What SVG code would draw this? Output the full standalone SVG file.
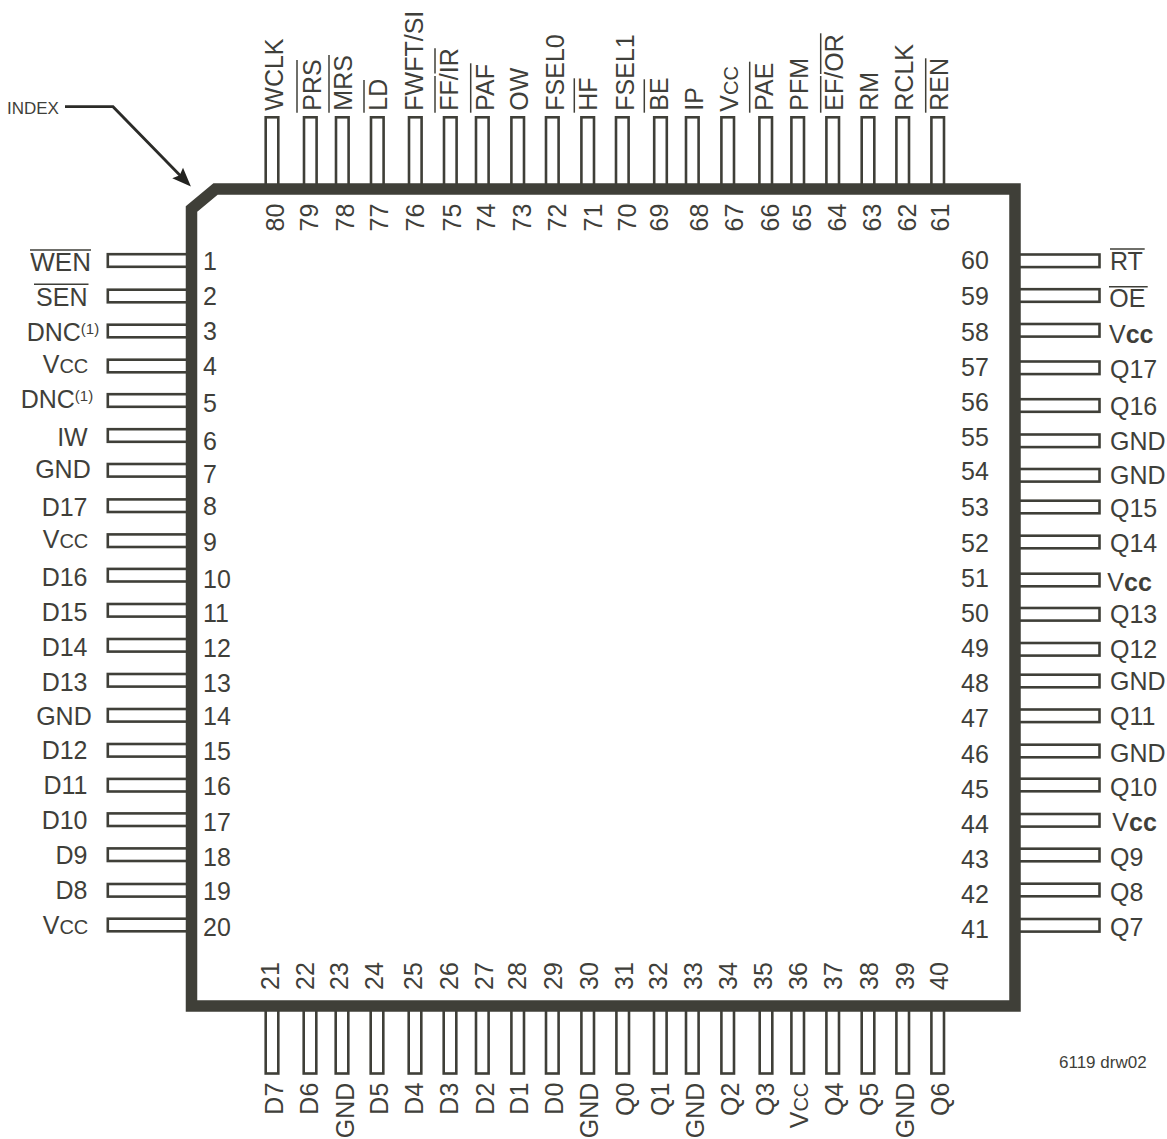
<svg xmlns="http://www.w3.org/2000/svg" width="1167" height="1139" viewBox="0 0 1167 1139">
<style>
.p{fill:#fff;stroke:#3f3f38;stroke-width:2.6}
.t{font-family:"Liberation Sans",Arial,sans-serif;font-size:25px;fill:#3f3f3a}
.e{text-anchor:end}
.o{stroke:#3f3f38;stroke-width:1.5;fill:none}
.s{font-size:20px}
.b{font-weight:bold}
.u{font-size:15px}
.m{font-size:17px}
.w{font-size:26px}
.body{fill:none;stroke:#3f3f38;stroke-width:11.5;stroke-linejoin:miter}
.l{fill:none;stroke:#2b2b28;stroke-width:2.8}
</style>
<defs><marker id="arrow" markerUnits="userSpaceOnUse" markerWidth="24" markerHeight="24" refX="13.4" refY="12" orient="auto"><path d="M0 4.5L19 12L0 19.5L3 12Z" fill="#232320"/></marker></defs>
<rect width="1167" height="1139" fill="#fff"/>
<g id="pin-1"><rect class="p" x="107.8" y="254.2" width="84" height="12.6"/><text class="t" x="203" y="270">1</text><text class="t e w" x="91" y="270.7">WEN</text><line class="o" x1="30" y1="250" x2="91" y2="250"/></g>
<g id="pin-2"><rect class="p" x="107.8" y="289.7" width="84" height="12.6"/><text class="t" x="203" y="305">2</text><text class="t e" x="87.5" y="305.7">SEN</text><line class="o" x1="34" y1="284.3" x2="88.5" y2="284.3"/></g>
<g id="pin-3"><rect class="p" x="107.8" y="324.7" width="84" height="12.6"/><text class="t" x="203" y="340">3</text><text class="t" x="26.7" y="340.7">DNC<tspan class="u" dy="-7">(1)</tspan></text></g>
<g id="pin-4"><rect class="p" x="107.8" y="359.7" width="84" height="12.6"/><text class="t" x="203" y="375">4</text><text class="t e" x="88.3" y="372.7">V<tspan class="s">CC</tspan></text></g>
<g id="pin-5"><rect class="p" x="107.8" y="394.2" width="84" height="12.6"/><text class="t" x="203" y="411.7">5</text><text class="t" x="20.7" y="408.3">DNC<tspan class="u" dy="-7">(1)</tspan></text></g>
<g id="pin-6"><rect class="p" x="107.8" y="429.2" width="84" height="12.6"/><text class="t" x="203" y="449.5">6</text><text class="t e" x="87.7" y="445.7">IW</text></g>
<g id="pin-7"><rect class="p" x="107.8" y="464" width="84" height="12.6"/><text class="t" x="203" y="483">7</text><text class="t e" x="90.7" y="478.3">GND</text></g>
<g id="pin-8"><rect class="p" x="107.8" y="499.4" width="84" height="12.6"/><text class="t" x="203" y="515">8</text><text class="t e" x="87.5" y="515.7">D17</text></g>
<g id="pin-9"><rect class="p" x="107.8" y="534.4" width="84" height="12.6"/><text class="t" x="203" y="550.7">9</text><text class="t e" x="88.3" y="548.3">V<tspan class="s">CC</tspan></text></g>
<g id="pin-10"><rect class="p" x="107.8" y="568.9" width="84" height="12.6"/><text class="t" x="203" y="588">10</text><text class="t e" x="87.5" y="585.7">D16</text></g>
<g id="pin-11"><rect class="p" x="107.8" y="604" width="84" height="12.6"/><text class="t" x="203" y="621.7">11</text><text class="t e" x="87.5" y="620.7">D15</text></g>
<g id="pin-12"><rect class="p" x="107.8" y="639" width="84" height="12.6"/><text class="t" x="203" y="656.7">12</text><text class="t e" x="87.5" y="655.7">D14</text></g>
<g id="pin-13"><rect class="p" x="107.8" y="674" width="84" height="12.6"/><text class="t" x="203" y="691.7">13</text><text class="t e" x="87.5" y="690.7">D13</text></g>
<g id="pin-14"><rect class="p" x="107.8" y="709" width="84" height="12.6"/><text class="t" x="203" y="725">14</text><text class="t e" x="91.7" y="725">GND</text></g>
<g id="pin-15"><rect class="p" x="107.8" y="744" width="84" height="12.6"/><text class="t" x="203" y="760">15</text><text class="t e" x="87.5" y="759.3">D12</text></g>
<g id="pin-16"><rect class="p" x="107.8" y="778.9" width="84" height="12.6"/><text class="t" x="203" y="795">16</text><text class="t e" x="87.5" y="794.3">D11</text></g>
<g id="pin-17"><rect class="p" x="107.8" y="813.4" width="84" height="12.6"/><text class="t" x="203" y="830.7">17</text><text class="t e" x="87.5" y="829.3">D10</text></g>
<g id="pin-18"><rect class="p" x="107.8" y="848.4" width="84" height="12.6"/><text class="t" x="203" y="865.7">18</text><text class="t e" x="87.5" y="864.3">D9</text></g>
<g id="pin-19"><rect class="p" x="107.8" y="884" width="84" height="12.6"/><text class="t" x="203" y="900">19</text><text class="t e" x="87.5" y="899">D8</text></g>
<g id="pin-20"><rect class="p" x="107.8" y="918.7" width="84" height="12.6"/><text class="t" x="203" y="936">20</text><text class="t e" x="88.3" y="934">V<tspan class="s">CC</tspan></text></g>

<g id="pin-21"><rect class="p" x="265.7" y="1006" width="12.6" height="67.5"/><text class="t" transform="translate(279,990) rotate(-90)">21</text><text class="t e" transform="translate(283.3,1082.7) rotate(-90)">D7</text></g>
<g id="pin-22"><rect class="p" x="303.7" y="1006" width="12.6" height="67.5"/><text class="t" transform="translate(314,990) rotate(-90)">22</text><text class="t e" transform="translate(317.7,1082.7) rotate(-90)">D6</text></g>
<g id="pin-23"><rect class="p" x="335.7" y="1006" width="12.6" height="67.5"/><text class="t" transform="translate(348.3,990) rotate(-90)">23</text><text class="t e" transform="translate(354,1082.7) rotate(-90)">GND</text></g>
<g id="pin-24"><rect class="p" x="370.7" y="1006" width="12.6" height="67.5"/><text class="t" transform="translate(383.3,990) rotate(-90)">24</text><text class="t e" transform="translate(388.3,1082.7) rotate(-90)">D5</text></g>
<g id="pin-25"><rect class="p" x="408.7" y="1006" width="12.6" height="67.5"/><text class="t" transform="translate(421.7,990) rotate(-90)">25</text><text class="t e" transform="translate(423.3,1082.7) rotate(-90)">D4</text></g>
<g id="pin-26"><rect class="p" x="443.7" y="1006" width="12.6" height="67.5"/><text class="t" transform="translate(457.7,990) rotate(-90)">26</text><text class="t e" transform="translate(458.3,1082.7) rotate(-90)">D3</text></g>
<g id="pin-27"><rect class="p" x="476" y="1006" width="12.6" height="67.5"/><text class="t" transform="translate(493.3,990) rotate(-90)">27</text><text class="t e" transform="translate(494,1082.7) rotate(-90)">D2</text></g>
<g id="pin-28"><rect class="p" x="511.4" y="1006" width="12.6" height="67.5"/><text class="t" transform="translate(525.7,990) rotate(-90)">28</text><text class="t e" transform="translate(528.3,1082.7) rotate(-90)">D1</text></g>
<g id="pin-29"><rect class="p" x="546" y="1006" width="12.6" height="67.5"/><text class="t" transform="translate(561.7,990) rotate(-90)">29</text><text class="t e" transform="translate(563.3,1082.7) rotate(-90)">D0</text></g>
<g id="pin-30"><rect class="p" x="581.4" y="1006" width="12.6" height="67.5"/><text class="t" transform="translate(597.7,990) rotate(-90)">30</text><text class="t e" transform="translate(598.3,1082.7) rotate(-90)">GND</text></g>
<g id="pin-31"><rect class="p" x="616.4" y="1006" width="12.6" height="67.5"/><text class="t" transform="translate(632.7,990) rotate(-90)">31</text><text class="t e" transform="translate(634,1082.7) rotate(-90)">Q0</text></g>
<g id="pin-32"><rect class="p" x="654" y="1006" width="12.6" height="67.5"/><text class="t" transform="translate(667.3,990) rotate(-90)">32</text><text class="t e" transform="translate(669,1082.7) rotate(-90)">Q1</text></g>
<g id="pin-33"><rect class="p" x="686" y="1006" width="12.6" height="67.5"/><text class="t" transform="translate(702.3,990) rotate(-90)">33</text><text class="t e" transform="translate(704,1082.7) rotate(-90)">GND</text></g>
<g id="pin-34"><rect class="p" x="721.4" y="1006" width="12.6" height="67.5"/><text class="t" transform="translate(736.7,990) rotate(-90)">34</text><text class="t e" transform="translate(739,1082.7) rotate(-90)">Q2</text></g>
<g id="pin-35"><rect class="p" x="759.7" y="1006" width="12.6" height="67.5"/><text class="t" transform="translate(771.7,990) rotate(-90)">35</text><text class="t e" transform="translate(774,1082.7) rotate(-90)">Q3</text></g>
<g id="pin-36"><rect class="p" x="791.4" y="1006" width="12.6" height="67.5"/><text class="t" transform="translate(806.7,990) rotate(-90)">36</text><text class="t e" transform="translate(807.7,1082.7) rotate(-90)">V<tspan class="s">CC</tspan></text></g>
<g id="pin-37"><rect class="p" x="826.4" y="1006" width="12.6" height="67.5"/><text class="t" transform="translate(841.7,990) rotate(-90)">37</text><text class="t e" transform="translate(843.3,1082.7) rotate(-90)">Q4</text></g>
<g id="pin-38"><rect class="p" x="861.7" y="1006" width="12.6" height="67.5"/><text class="t" transform="translate(878.3,990) rotate(-90)">38</text><text class="t e" transform="translate(878.3,1082.7) rotate(-90)">Q5</text></g>
<g id="pin-39"><rect class="p" x="896.4" y="1006" width="12.6" height="67.5"/><text class="t" transform="translate(913.5,990) rotate(-90)">39</text><text class="t e" transform="translate(914,1082.7) rotate(-90)">GND</text></g>
<g id="pin-40"><rect class="p" x="931.4" y="1006" width="12.6" height="67.5"/><text class="t" transform="translate(948.3,990) rotate(-90)">40</text><text class="t e" transform="translate(949.3,1082.7) rotate(-90)">Q6</text></g>

<g id="pin-41"><rect class="p" x="1015" y="919" width="84.5" height="12.6"/><text class="t" x="961" y="937.7">41</text><text class="t" x="1110" y="936">Q7</text></g>
<g id="pin-42"><rect class="p" x="1015" y="883.7" width="84.5" height="12.6"/><text class="t" x="961" y="903">42</text><text class="t" x="1110" y="901">Q8</text></g>
<g id="pin-43"><rect class="p" x="1015" y="848.7" width="84.5" height="12.6"/><text class="t" x="961" y="868">43</text><text class="t" x="1110" y="866">Q9</text></g>
<g id="pin-44"><rect class="p" x="1015" y="814" width="84.5" height="12.6"/><text class="t" x="961" y="833">44</text><text class="t" x="1112.3" y="830.7">V<tspan class="b">cc</tspan></text></g>
<g id="pin-45"><rect class="p" x="1015" y="778.7" width="84.5" height="12.6"/><text class="t" x="961" y="798.3">45</text><text class="t" x="1110" y="796">Q10</text></g>
<g id="pin-46"><rect class="p" x="1015" y="744.7" width="84.5" height="12.6"/><text class="t" x="961" y="763.3">46</text><text class="t" x="1110" y="761.7">GND</text></g>
<g id="pin-47"><rect class="p" x="1015" y="709.5" width="84.5" height="12.6"/><text class="t" x="961" y="726.7">47</text><text class="t" x="1110" y="725">Q11</text></g>
<g id="pin-48"><rect class="p" x="1015" y="674.7" width="84.5" height="12.6"/><text class="t" x="961" y="691.7">48</text><text class="t" x="1110" y="690">GND</text></g>
<g id="pin-49"><rect class="p" x="1015" y="643" width="84.5" height="12.6"/><text class="t" x="961" y="656.7">49</text><text class="t" x="1110" y="658.3">Q12</text></g>
<g id="pin-50"><rect class="p" x="1015" y="608" width="84.5" height="12.6"/><text class="t" x="961" y="621.7">50</text><text class="t" x="1110" y="623.3">Q13</text></g>
<g id="pin-51"><rect class="p" x="1015" y="573.7" width="84.5" height="12.6"/><text class="t" x="961" y="586.7">51</text><text class="t" x="1107.3" y="590.7">V<tspan class="b">cc</tspan></text></g>
<g id="pin-52"><rect class="p" x="1015" y="535.7" width="84.5" height="12.6"/><text class="t" x="961" y="551.7">52</text><text class="t" x="1110" y="552.3">Q14</text></g>
<g id="pin-53"><rect class="p" x="1015" y="500.7" width="84.5" height="12.6"/><text class="t" x="961" y="516">53</text><text class="t" x="1110" y="516.7">Q15</text></g>
<g id="pin-54"><rect class="p" x="1015" y="469" width="84.5" height="12.6"/><text class="t" x="961" y="480">54</text><text class="t" x="1110" y="484.3">GND</text></g>
<g id="pin-55"><rect class="p" x="1015" y="434.5" width="84.5" height="12.6"/><text class="t" x="961" y="446">55</text><text class="t" x="1110" y="450">GND</text></g>
<g id="pin-56"><rect class="p" x="1015" y="399.2" width="84.5" height="12.6"/><text class="t" x="961" y="410.7">56</text><text class="t" x="1110" y="415">Q16</text></g>
<g id="pin-57"><rect class="p" x="1015" y="361.5" width="84.5" height="12.6"/><text class="t" x="961" y="376">57</text><text class="t" x="1110" y="378.3">Q17</text></g>
<g id="pin-58"><rect class="p" x="1015" y="324" width="84.5" height="12.6"/><text class="t" x="961" y="340.7">58</text><text class="t" x="1109" y="342.7">V<tspan class="b">cc</tspan></text></g>
<g id="pin-59"><rect class="p" x="1015" y="289.2" width="84.5" height="12.6"/><text class="t" x="961" y="305">59</text><text class="t" x="1109.3" y="307.3">OE</text><line class="o" x1="1109" y1="286.7" x2="1147.7" y2="286.7"/></g>
<g id="pin-60"><rect class="p" x="1015" y="254.5" width="84.5" height="12.6"/><text class="t" x="961" y="269.3">60</text><text class="t" x="1110" y="270">RT</text><line class="o" x1="1110" y1="249" x2="1144.7" y2="249"/></g>

<g id="pin-61"><rect class="p" x="931.4" y="117.3" width="12.6" height="72"/><text class="t" transform="translate(949.3,231.5) rotate(-90)">61</text><text class="t" transform="translate(948.3,110.7) rotate(-90)">REN</text><line class="o" x1="925.7" y1="112.7" x2="925.7" y2="58.3"/></g>
<g id="pin-62"><rect class="p" x="896.4" y="117.3" width="12.6" height="72"/><text class="t" transform="translate(915.7,231.5) rotate(-90)">62</text><text class="t" transform="translate(913.3,110.7) rotate(-90)">RCLK</text></g>
<g id="pin-63"><rect class="p" x="861.7" y="117.3" width="12.6" height="72"/><text class="t" transform="translate(881,231.5) rotate(-90)">63</text><text class="t" transform="translate(878.3,110.7) rotate(-90)">RM</text></g>
<g id="pin-64"><rect class="p" x="826.4" y="117.3" width="12.6" height="72"/><text class="t" transform="translate(846,231.5) rotate(-90)">64</text><text class="t" transform="translate(843.3,110.7) rotate(-90)">EF/OR</text><line class="o" x1="820.7" y1="112.7" x2="820.7" y2="76"/><line class="o" x1="820.7" y1="74" x2="820.7" y2="33.3"/></g>
<g id="pin-65"><rect class="p" x="791.4" y="117.3" width="12.6" height="72"/><text class="t" transform="translate(811,231.5) rotate(-90)">65</text><text class="t" transform="translate(808.3,110.7) rotate(-90)">PFM</text></g>
<g id="pin-66"><rect class="p" x="759.4" y="117.3" width="12.6" height="72"/><text class="t" transform="translate(779,231.5) rotate(-90)">66</text><text class="t" transform="translate(772.7,110.7) rotate(-90)">PAE</text><line class="o" x1="749.7" y1="112.7" x2="749.7" y2="61.7"/></g>
<g id="pin-67"><rect class="p" x="721.4" y="117.3" width="12.6" height="72"/><text class="t" transform="translate(743.3,231.5) rotate(-90)">67</text><text class="t" transform="translate(738.3,111.7) rotate(-90)">V<tspan class="s">CC</tspan></text></g>
<g id="pin-68"><rect class="p" x="686" y="117.3" width="12.6" height="72"/><text class="t" transform="translate(708.3,231.5) rotate(-90)">68</text><text class="t" transform="translate(703.3,110.7) rotate(-90)">IP</text></g>
<g id="pin-69"><rect class="p" x="654.2" y="117.3" width="12.6" height="72"/><text class="t" transform="translate(668.3,231.5) rotate(-90)">69</text><text class="t" transform="translate(667.7,110.7) rotate(-90)">BE</text><line class="o" x1="644.3" y1="112.7" x2="644.3" y2="79.3"/></g>
<g id="pin-70"><rect class="p" x="616" y="117.3" width="12.6" height="72"/><text class="t" transform="translate(635.7,231.5) rotate(-90)">70</text><text class="t" transform="translate(634,110.7) rotate(-90)">FSEL1</text></g>
<g id="pin-71"><rect class="p" x="581.4" y="117.3" width="12.6" height="72"/><text class="t" transform="translate(601.7,231.5) rotate(-90)">71</text><text class="t" transform="translate(597.3,110.7) rotate(-90)">HF</text><line class="o" x1="574.3" y1="112.7" x2="574.3" y2="78.3"/></g>
<g id="pin-72"><rect class="p" x="546" y="117.3" width="12.6" height="72"/><text class="t" transform="translate(565.7,231.5) rotate(-90)">72</text><text class="t" transform="translate(564,110.7) rotate(-90)">FSEL0</text></g>
<g id="pin-73"><rect class="p" x="511.4" y="117.3" width="12.6" height="72"/><text class="t" transform="translate(530.7,231.5) rotate(-90)">73</text><text class="t" transform="translate(528.3,110.7) rotate(-90)">OW</text></g>
<g id="pin-74"><rect class="p" x="476" y="117.3" width="12.6" height="72"/><text class="t" transform="translate(495,231.5) rotate(-90)">74</text><text class="t" transform="translate(494.3,110.7) rotate(-90)">PAF</text><line class="o" x1="470.7" y1="112.7" x2="470.7" y2="63.3"/></g>
<g id="pin-75"><rect class="p" x="444" y="117.3" width="12.6" height="72"/><text class="t" transform="translate(460.7,231.5) rotate(-90)">75</text><text class="t" transform="translate(458.3,110.7) rotate(-90)">FF/IR</text><line class="o" x1="435" y1="112.7" x2="435" y2="76"/><line class="o" x1="435" y1="73.5" x2="435" y2="48.3"/></g>
<g id="pin-76"><rect class="p" x="409" y="117.3" width="12.6" height="72"/><text class="t" transform="translate(424.3,231.5) rotate(-90)">76</text><text class="t" transform="translate(423.3,110.7) rotate(-90)">FWFT/SI</text></g>
<g id="pin-77"><rect class="p" x="371" y="117.3" width="12.6" height="72"/><text class="t" transform="translate(388.3,231.5) rotate(-90)">77</text><text class="t" transform="translate(387.3,110.7) rotate(-90)">LD</text><line class="o" x1="364" y1="112.7" x2="364" y2="80"/></g>
<g id="pin-78"><rect class="p" x="336" y="117.3" width="12.6" height="72"/><text class="t" transform="translate(354,231.5) rotate(-90)">78</text><text class="t" transform="translate(352.3,110.7) rotate(-90)">MRS</text><line class="o" x1="329" y1="112.7" x2="329" y2="55"/></g>
<g id="pin-79"><rect class="p" x="304" y="117.3" width="12.6" height="72"/><text class="t" transform="translate(318.3,231.5) rotate(-90)">79</text><text class="t" transform="translate(321,110.7) rotate(-90)">PRS</text><line class="o" x1="297" y1="112.7" x2="297" y2="60"/></g>
<g id="pin-80"><rect class="p" x="265.7" y="117.3" width="12.6" height="72"/><text class="t" transform="translate(284,231.5) rotate(-90)">80</text><text class="t" transform="translate(282.5,110.7) rotate(-90)">WCLK</text></g>

<g id="package"><path class="body" d="M191.5 1006V209L215.5 189H1015V1006Z"/></g>
<g id="connectors"><path class="l" d="M65 106.7H113L187 182.6" marker-end="url(#arrow)"/></g>
<g id="index-label"><text class="t m" x="7" y="114">INDEX</text></g>
<g id="drawing-number"><text class="t m" x="1059" y="1068">6119 drw02</text></g>
</svg>
